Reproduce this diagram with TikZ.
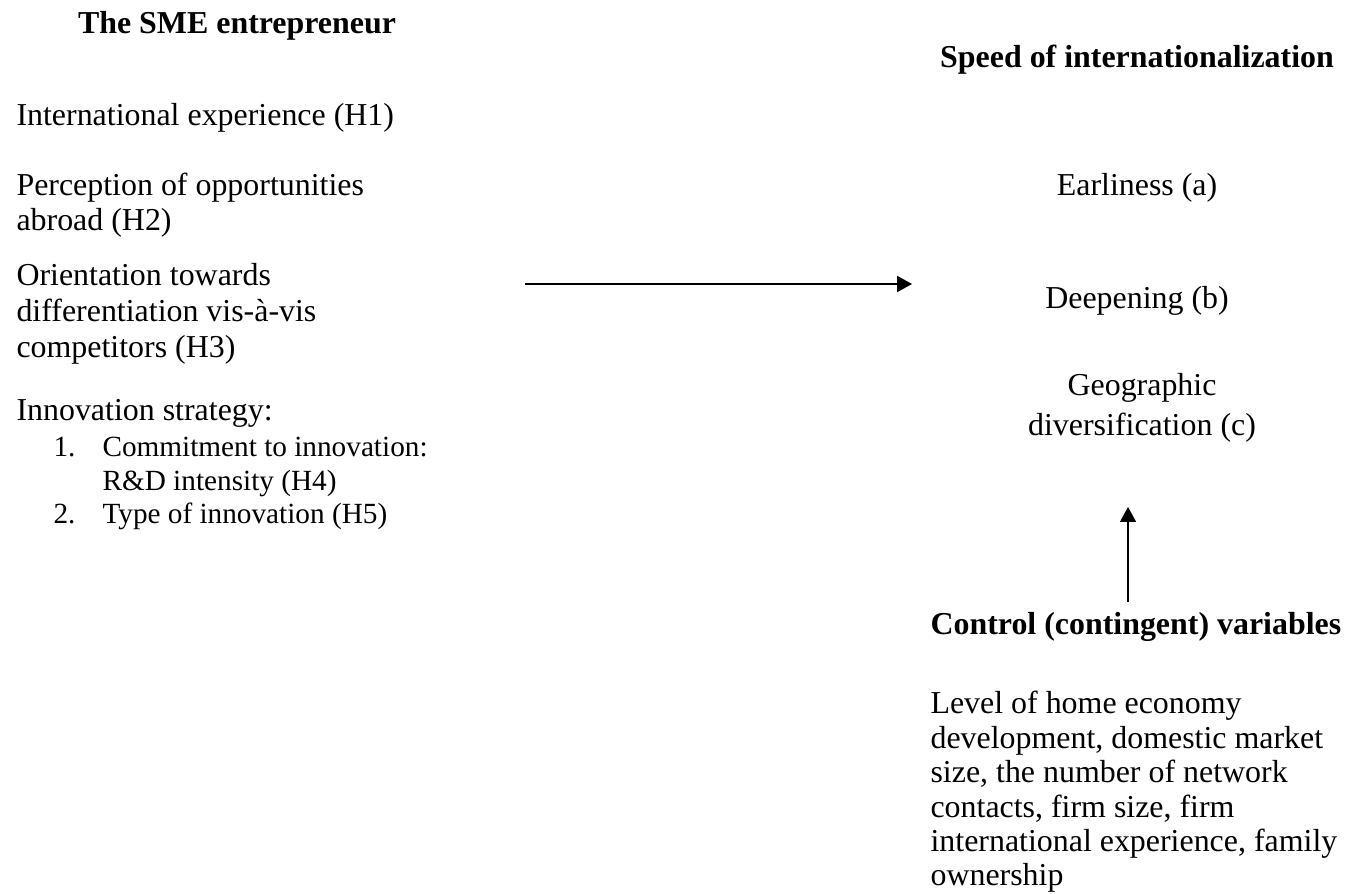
\documentclass[tikz,border=0pt]{standalone}
\usepackage{fontspec}
\setmainfont{Liberation Serif}
\usetikzlibrary{arrows.meta}
\begin{document}
\begin{tikzpicture}[x=0.376pt,y=-0.376pt]
	\tikzset{
		txt/.style={anchor=base west,inner sep=0pt,font=\fontsize{12}{14}\selectfont},
		small/.style={anchor=base west,inner sep=0pt,font=\fontsize{11}{13}\selectfont},
		mid/.style={anchor=base,inner sep=0pt,font=\fontsize{12}{14}\selectfont},
		head/.style={anchor=base,inner sep=0pt,font=\fontsize{12}{14}\selectfont\bfseries},
		link/.style={-{Triangle[length=5.6pt,width=6pt]}}
	}
	\useasboundingbox (0,0) rectangle (1346,894);
	
	%the entrepreneur
	\node[head] (sme) at (237,34){The SME entrepreneur};
	\node[txt] (h1) at (16,126){International experience (H1)};
	\node[txt] (h2a) at (16,196){Perception of opportunities};
	\node[txt] (h2b) at (16,231){abroad (H2)};
	\node[txt] (h3a) at (16,286){Orientation towards};
	\node[txt] (h3b) at (16,322){differentiation vis-\`a-vis};
	\node[txt] (h3c) at (16,358){competitors (H3)};
	\node[txt] (inno) at (16,421){Innovation strategy:};
	\node[small] (n1) at (53,457){1.};
	\node[small] (h4a) at (102,457){Commitment to innovation:};
	\node[small] (h4b) at (102,490){R\&D intensity (H4)};
	\node[small] (n2) at (53,523){2.};
	\node[small] (h5) at (102,523){Type of innovation (H5)};
	
	%speed
	\node[head] (speed) at (1137,68){Speed of internationalization};
	\node[mid] (early) at (1137,196){Earliness (a)};
	\node[mid] (deep) at (1137,309){Deepening (b)};
	\node[mid] (geoa) at (1142,396){Geographic};
	\node[mid] (geob) at (1142,436){diversification (c)};
	
	%controls
	\node[txt,font=\fontsize{12}{14}\selectfont\bfseries] (ctl) at (930,634){Control (contingent) variables};
	\foreach \y/\t [count=\i] in {713/Level of home economy, 748/{development, domestic market}, 782/{size, the number of network}, 817/{contacts, firm size, firm}, 851/{international experience, family}, 885/ownership}{
		\node[txt] (var\i) at (930,\y){\t};
	}
	
	%arrows
	\coordinate (from) at (525,284);
	\coordinate (to) at (912,284);
	\coordinate (up) at (1128,507);
	\coordinate (low) at (1128,602);
	\draw[link,line width=0.75pt] (from) -- (to);
	\draw[link,line width=0.5pt] (low) -- (up);
\end{tikzpicture}
\end{document}
